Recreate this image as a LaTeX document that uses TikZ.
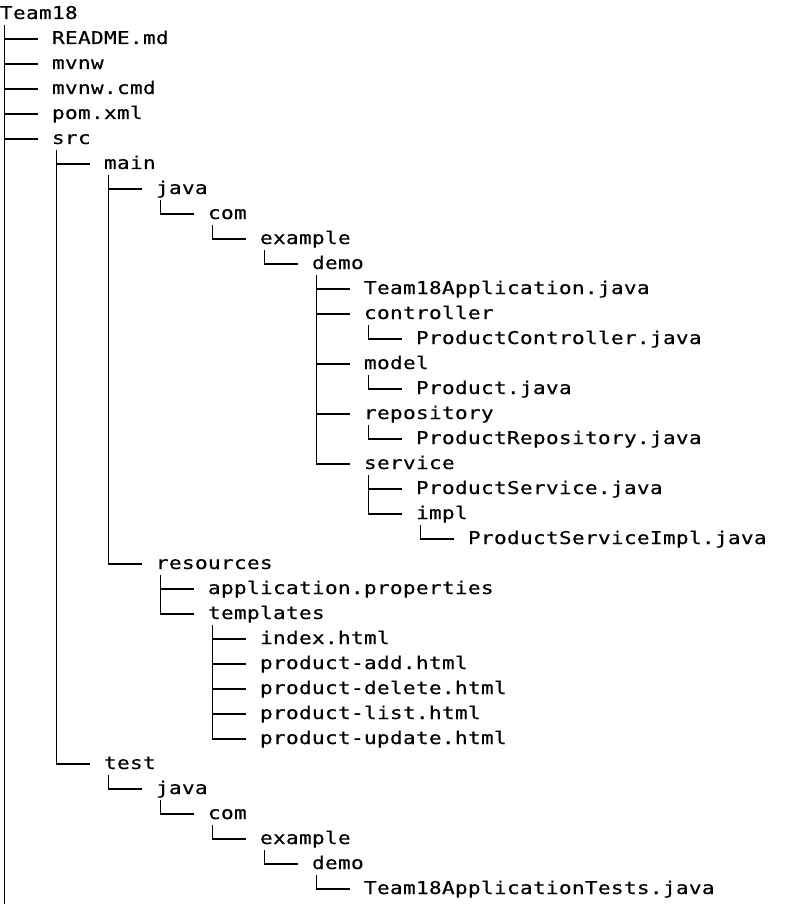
\documentclass[tikz,border=0pt]{standalone}
\usepackage{fontspec}
\newfontfamily\treefont{DejaVu Sans Mono}[FakeStretch=1.2,LetterSpace=1.6,FakeBold=0.3]
\begin{document}
\begin{tikzpicture}[x=1pt,y=1pt,
  entry/.style={anchor=base west,inner sep=0pt,outer sep=0pt,font=\treefont\fontsize{17.6}{20}\selectfont,text=black},
  branch/.style={line width=1.4pt,black}]
\path[fill=white] (0,0) rectangle (795,-904);
\useasboundingbox (0,0) rectangle (795,-904);
% entries
\node[entry] (n0)  at (0,-19)   {Team18};
\node[entry] (n1)  at (52,-44)  {README.md};
\node[entry] (n2)  at (52,-69)  {mvnw};
\node[entry] (n3)  at (52,-94)  {mvnw.cmd};
\node[entry] (n4)  at (52,-119) {pom.xml};
\node[entry] (n5)  at (52,-144) {src};
\node[entry] (n6)  at (104,-169) {main};
\node[entry] (n7)  at (156,-194) {java};
\node[entry] (n8)  at (208,-219) {com};
\node[entry] (n9)  at (260,-244) {example};
\node[entry] (n10) at (312,-269) {demo};
\node[entry] (n11) at (364,-294) {Team18Application.java};
\node[entry] (n12) at (364,-319) {controller};
\node[entry] (n13) at (416,-344) {ProductController.java};
\node[entry] (n14) at (364,-369) {model};
\node[entry] (n15) at (416,-394) {Product.java};
\node[entry] (n16) at (364,-419) {repository};
\node[entry] (n17) at (416,-444) {ProductRepository.java};
\node[entry] (n18) at (364,-469) {service};
\node[entry] (n19) at (416,-494) {ProductService.java};
\node[entry] (n20) at (416,-519) {impl};
\node[entry] (n21) at (468,-544) {ProductServiceImpl.java};
\node[entry] (n22) at (156,-569) {resources};
\node[entry] (n23) at (208,-594) {application.properties};
\node[entry] (n24) at (208,-619) {templates};
\node[entry] (n25) at (260,-644) {index.html};
\node[entry] (n26) at (260,-669) {product-add.html};
\node[entry] (n27) at (260,-694) {product-delete.html};
\node[entry] (n28) at (260,-719) {product-list.html};
\node[entry] (n29) at (260,-744) {product-update.html};
\node[entry] (n30) at (104,-769) {test};
\node[entry] (n31) at (156,-794) {java};
\node[entry] (n32) at (208,-819) {com};
\node[entry] (n33) at (260,-844) {example};
\node[entry] (n34) at (312,-869) {demo};
\node[entry] (n35) at (364,-894) {Team18ApplicationTests.java};
\coordinate (rootend) at (4.5,-904);
% connectors
\draw[branch] ([xshift=4.5pt,yshift=-6pt]n0.base west) -- (rootend);
\foreach \p/\c in {n0/n1,n0/n2,n0/n3,n0/n4,n0/n5,
                   n5/n6,n5/n30,
                   n6/n7,n6/n22,
                   n7/n8,n8/n9,n9/n10,
                   n10/n11,n10/n12,n10/n14,n10/n16,n10/n18,
                   n12/n13,n14/n15,n16/n17,
                   n18/n19,n18/n20,n20/n21,
                   n22/n23,n22/n24,
                   n24/n25,n24/n26,n24/n27,n24/n28,n24/n29,
                   n30/n31,n31/n32,n32/n33,n33/n34,n34/n35}
  \draw[branch] ([xshift=4.5pt,yshift=-6pt]\p.base west) |- ([xshift=-14pt,yshift=5pt]\c.base west);
\end{tikzpicture}
\end{document}
